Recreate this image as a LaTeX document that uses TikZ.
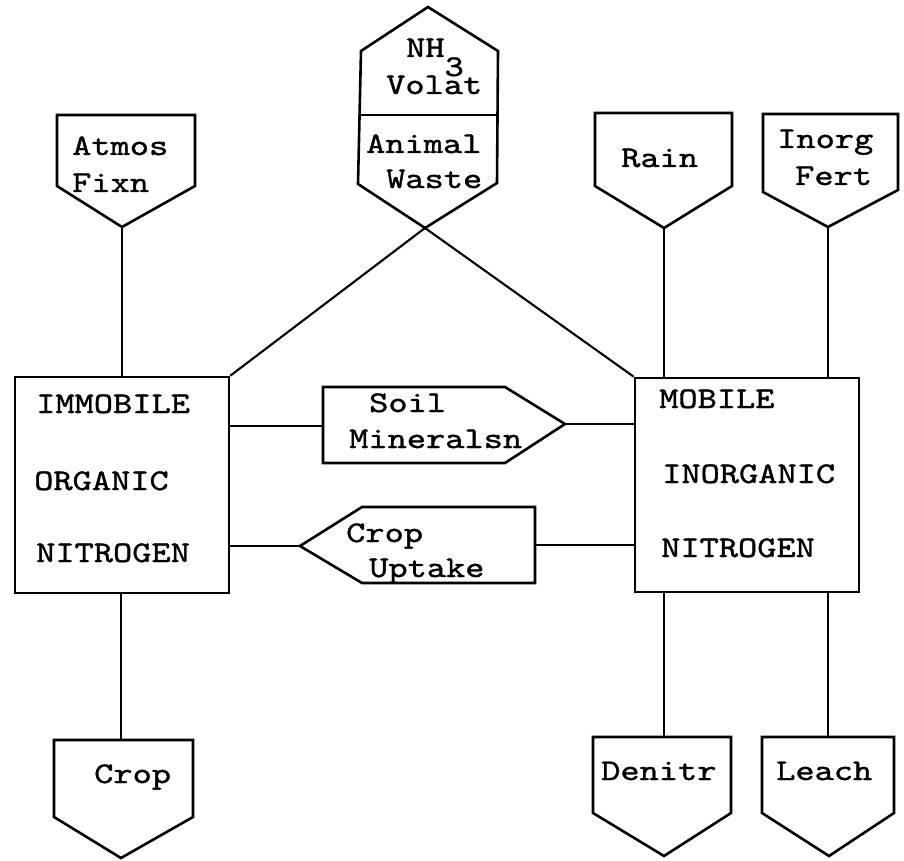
\documentclass[tikz,border=0pt]{standalone}
\usepackage{fontspec}
\newfontfamily\tw{lmmono10-regular.otf}[FakeStretch=1.22,FakeBold=1.2]
\begin{document}
\begin{tikzpicture}[x=1pt,y=-1pt,
  shp/.style={draw, line width=2.6pt, line join=miter},
  conn/.style={draw, line width=2.1pt},
  lbl/.style={anchor=base west, inner sep=0pt, font=\tw\fontsize{30}{32}\selectfont},
  bigbox/.style={draw, line width=2.6pt, inner sep=0pt}]
\fill[white] (0,0) rectangle (904,861);
\useasboundingbox (0,0) rectangle (904,861);

% ---- main compartments
\node[bigbox, minimum width=214pt, minimum height=216pt] (iom) at (122,485) {};
\node[bigbox, minimum width=224pt, minimum height=214pt] (min) at (747,485) {};
\node[lbl] (iomA) at (36,413) {IMMOBILE};
\node[lbl] (iomB) at (34,490) {ORGANIC};
\node[lbl] (iomC) at (36,562) {NITROGEN};
\node[lbl] (minA) at (659,408) {MOBILE};
\node[lbl] (minB) at (662,483) {INORGANIC};
\node[lbl] (minC) at (661,557) {NITROGEN};

% ---- Atmos Fixn
\coordinate (atmosTip) at (122,227);
\draw[shp] (57,115) -- (195,115) -- (195,186) -- (atmosTip) -- (57,186) -- cycle;
\node[lbl] (atmosA) at (72,155) {Atmos};
\node[lbl] (atmosB) at (72,192) {Fixn};

% ---- Rain
\coordinate (rainTip) at (664,228);
\draw[shp] (595,113) -- (732,113) -- (732,186) -- (rainTip) -- (595,186) -- cycle;
\node[lbl] (rainA) at (621,167) {Rain};

% ---- Inorg Fert
\coordinate (fertTip) at (828,227);
\draw[shp] (763,114) -- (898,114) -- (898,190) -- (fertTip) -- (763,192) -- cycle;
\node[lbl] (fertA) at (777,148) {Inorg};
\node[lbl] (fertB) at (795,185) {Fert};

% ---- NH3 Volat / Animal Waste hexagon
\coordinate (awBot) at (425,228);
\draw[shp] (428,7) -- (498,51) -- (497,183) -- (awBot) -- (358,184) -- (361,51) -- cycle;
\draw[shp] (361,115) -- (498,115);
\node[lbl] (nh) at (406,57) {NH\raisebox{-19pt}{3}};
\node[lbl] (volat) at (386,94) {Volat};
\node[lbl] (animal) at (366,153) {Animal};
\node[lbl] (waste) at (386,188) {Waste};

% ---- Soil Mineralsn
\coordinate (soilL) at (323,426);
\coordinate (soilTip) at (565,424);
\draw[shp] (323,387) -- (505,387) -- (soilTip) -- (505,463) -- (323,463) -- cycle;
\node[lbl] (soilA) at (369,412) {Soil};
\node[lbl] (soilB) at (349,448) {Mineralsn};

% ---- Crop Uptake
\coordinate (upTip) at (300,546);
\coordinate (upR) at (535,545);
\draw[shp] (535,507) -- (362,507) -- (upTip) -- (362,583) -- (535,583) -- cycle;
\node[lbl] (upA) at (346,542) {Crop};
\node[lbl] (upB) at (369,577) {Uptake};

% ---- Crop
\coordinate (cropTop) at (121,740);
\draw[shp] (54,740) -- (193,740) -- (193,817) -- (121,858) -- (54,817) -- cycle;
\node[lbl] (cropA) at (94,783) {Crop};

% ---- Denitr
\coordinate (denTop) at (664,737);
\draw[shp] (593,737) -- (731,737) -- (731,813) -- (664,856) -- (593,813) -- cycle;
\node[lbl] (denA) at (601,780) {Denitr};

% ---- Leach
\coordinate (leachTop) at (828,737);
\draw[shp] (762,737) -- (894,737) -- (894,813) -- (829,856) -- (762,813) -- cycle;
\node[lbl] (leachA) at (776,780) {Leach};

% ---- connectors
\draw[conn] (atmosTip) -- (atmosTip |- iom.north);
\draw[conn] (rainTip) -- (rainTip |- min.north);
\draw[conn] (fertTip) -- (fertTip |- min.north);
\draw[conn] (awBot) -- (iom.north east);
\draw[conn] (awBot) -- (min.north west);
\draw[conn] (iom.east |- soilL) -- (soilL);
\draw[conn] (soilTip) -- (min.west |- soilTip);
\draw[conn] (iom.east |- upTip) -- (upTip);
\draw[conn] (upR) -- (min.west |- upR);
\draw[conn] (cropTop |- iom.south) -- (cropTop);
\draw[conn] (denTop |- min.south) -- (denTop);
\draw[conn] (leachTop |- min.south) -- (leachTop);
\end{tikzpicture}
\end{document}
